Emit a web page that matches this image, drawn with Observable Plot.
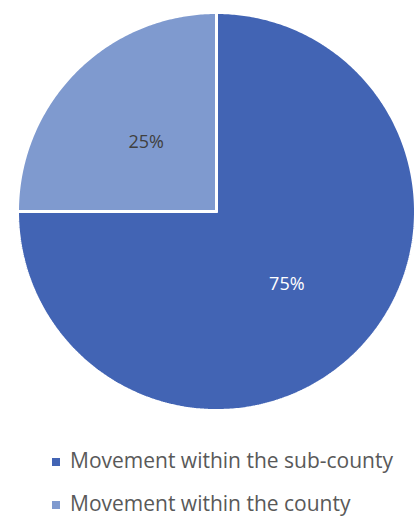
<!DOCTYPE html>
<html>
<head>
<meta charset="utf-8">
<script src="https://cdn.jsdelivr.net/npm/d3@7"></script>
<script src="https://cdn.jsdelivr.net/npm/@observablehq/plot@0.6"></script>
<style>
  html, body { margin: 0; padding: 0; background: #fff; }
  #wrap { position: relative; width: 415px; height: 518px; overflow: hidden; font-family: "Open Sans", sans-serif; }
  #chart { position: absolute; left: 0; top: 0; }
  .legend { position: absolute; left: 52px; display: flex; align-items: center; color: #595959; font-size: 21px; line-height: 21px; white-space: nowrap; }
  .legend .sw { width: 8px; height: 8px; margin-right: 10px; margin-top: 2px; }
</style>
</head>
<body>
<div id="wrap"><div id="chart"></div></div>
<script>
const categories = ["Movement within the sub-county", "Movement within the county"];
const values = [75, 25];
const labels = ["75%", "25%"];
const colors = ["#4264B4", "#7F9ACF"];
const labelColors = ["#ffffff", "#404040"];

const arcs = d3.pie().sort(null).value(d => d)(values);

const rows = [];
arcs.forEach((a, i) => {
  const cat = categories[i];
  rows.push({cat, x: 0, y: 0});
  const n = Math.max(8, Math.ceil((a.endAngle - a.startAngle) / 0.01));
  for (let k = 0; k <= n; k++) {
    const t = a.startAngle + (a.endAngle - a.startAngle) * k / n;
    rows.push({cat, x: Math.sin(t), y: Math.cos(t)});
  }
  rows.push({cat, x: 0, y: 0});
});

const labelRows = arcs.map((a, i) => {
  const m = (a.startAngle + a.endAngle) / 2;
  return {text: labels[i], x: 0.5 * Math.sin(m), y: 0.5 * Math.cos(m), color: labelColors[i]};
});

const chart = Plot.plot({
  width: 415,
  height: 430,
  marginLeft: 17,
  marginRight: 0,
  marginTop: 12,
  marginBottom: 20,
  x: {domain: [-1, 1], axis: null},
  y: {domain: [-1, 1], axis: null},
  color: {domain: categories, range: colors},
  style: {fontFamily: "Open Sans, sans-serif", background: "white"},
  marks: [
    Plot.line(rows, {x: "x", y: "y", z: "cat", fill: "cat", stroke: "white", strokeWidth: 3, strokeLinejoin: "miter"}),
    Plot.text(labelRows.filter(d => d.color === "#ffffff"), {x: "x", y: "y", text: "text", fill: "#ffffff", fontSize: 18, dy: 2}),
    Plot.text(labelRows.filter(d => d.color !== "#ffffff"), {x: "x", y: "y", text: "text", fill: "#404040", fontSize: 18, dy: 1})
  ]
});
document.getElementById("chart").appendChild(chart);

const wrap = document.getElementById("wrap");
const tops = [450, 493];
categories.forEach((c, i) => {
  const row = document.createElement("div");
  row.className = "legend";
  row.style.top = tops[i] + "px";
  const sw = document.createElement("span");
  sw.className = "sw";
  sw.style.background = colors[i];
  const tx = document.createElement("span");
  tx.textContent = c;
  row.appendChild(sw);
  row.appendChild(tx);
  wrap.appendChild(row);
});
</script>
</body>
</html>
